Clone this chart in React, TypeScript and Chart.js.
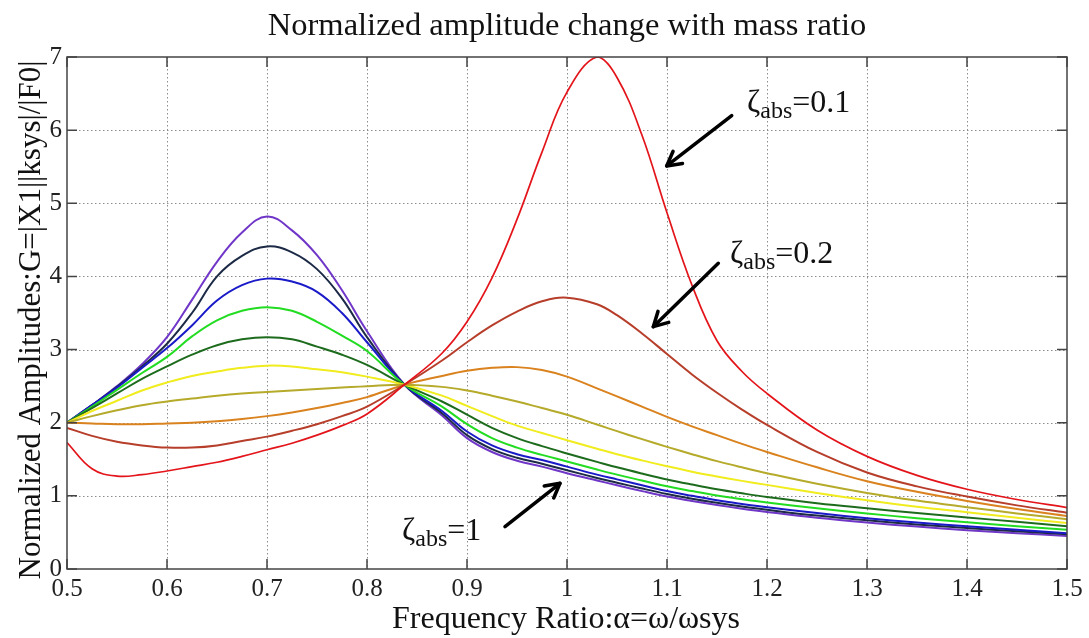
import React, { useEffect, useRef } from 'react';
import { Chart, registerables } from 'chart.js';

Chart.register(...registerables);

// Frequency ratio samples (shared by all curves)
const xs = [0.5, 0.525, 0.55, 0.575, 0.6, 0.625, 0.65, 0.675, 0.7, 0.725, 0.75, 0.775, 0.8, 0.8375, 0.875, 0.9, 0.925, 0.95, 0.975, 1.0, 1.03, 1.05, 1.075, 1.1, 1.125, 1.15, 1.175, 1.2, 1.25, 1.3, 1.35, 1.4, 1.45, 1.5];

// Normalized amplitude for each absorber damping ratio
const zeta01 = [1.73, 1.37, 1.27, 1.29, 1.34, 1.40, 1.46, 1.54, 1.63, 1.72, 1.83, 1.96, 2.12, 2.52, 2.95, 3.38, 3.98, 4.78, 5.7, 6.52, 7.0, 6.72, 5.93, 4.87, 3.88, 3.12, 2.7, 2.4, 1.9, 1.54, 1.28, 1.09, 0.95, 0.84];
const zeta02 = [1.93, 1.82, 1.74, 1.69, 1.66, 1.66, 1.69, 1.75, 1.81, 1.89, 1.98, 2.09, 2.22, 2.52, 2.85, 3.1, 3.33, 3.52, 3.66, 3.71, 3.62, 3.47, 3.22, 2.94, 2.66, 2.41, 2.18, 1.97, 1.6, 1.32, 1.13, 0.99, 0.87, 0.77];
const zeta03 = [2.0, 1.99, 1.98, 1.98, 1.99, 2.0, 2.02, 2.05, 2.09, 2.14, 2.2, 2.27, 2.35, 2.52, 2.64, 2.71, 2.75, 2.76, 2.72, 2.63, 2.47, 2.36, 2.22, 2.08, 1.95, 1.83, 1.71, 1.6, 1.39, 1.2, 1.055, 0.93, 0.82, 0.725];
const zeta04 = [2.0, 2.09, 2.17, 2.24, 2.29, 2.33, 2.37, 2.40, 2.42, 2.44, 2.46, 2.48, 2.50, 2.52, 2.49, 2.44, 2.37, 2.29, 2.2, 2.11, 1.975, 1.885, 1.775, 1.67, 1.57, 1.475, 1.39, 1.31, 1.165, 1.04, 0.935, 0.845, 0.76, 0.68];
const zeta05 = [2.0, 2.16, 2.30, 2.44, 2.55, 2.64, 2.70, 2.75, 2.78, 2.77, 2.73, 2.69, 2.63, 2.52, 2.37, 2.23, 2.09, 1.96, 1.86, 1.76, 1.645, 1.57, 1.485, 1.405, 1.33, 1.265, 1.205, 1.15, 1.04, 0.94, 0.85, 0.775, 0.70, 0.63];
const zeta06 = [2.0, 2.2, 2.4, 2.6, 2.77, 2.93, 3.06, 3.14, 3.17, 3.14, 3.04, 2.93, 2.79, 2.52, 2.29, 2.11, 1.93, 1.79, 1.68, 1.58, 1.465, 1.39, 1.305, 1.225, 1.155, 1.09, 1.035, 0.985, 0.9, 0.83, 0.765, 0.705, 0.645, 0.585];
const zeta07 = [2.0, 2.22, 2.45, 2.68, 2.9, 3.18, 3.4, 3.53, 3.58, 3.53, 3.38, 3.19, 2.98, 2.52, 2.22, 1.98, 1.79, 1.66, 1.56, 1.47, 1.36, 1.29, 1.21, 1.13, 1.065, 1.005, 0.955, 0.91, 0.83, 0.76, 0.695, 0.64, 0.585, 0.535];
const zeta08 = [2.0, 2.24, 2.48, 2.75, 3.02, 3.33, 3.67, 3.88, 3.97, 3.93, 3.79, 3.5, 3.1, 2.52, 2.16, 1.88, 1.69, 1.57, 1.49, 1.40, 1.29, 1.225, 1.145, 1.065, 1.0, 0.94, 0.89, 0.845, 0.765, 0.695, 0.635, 0.585, 0.535, 0.49];
const zeta09 = [2.0, 2.24, 2.49, 2.77, 3.08, 3.5, 4.0, 4.28, 4.41, 4.33, 4.1, 3.7, 3.17, 2.52, 2.13, 1.83, 1.64, 1.52, 1.44, 1.35, 1.245, 1.18, 1.10, 1.025, 0.96, 0.905, 0.855, 0.81, 0.73, 0.665, 0.61, 0.56, 0.515, 0.475];
const zeta10 = [2.0, 2.24, 2.5, 2.8, 3.17, 3.68, 4.2, 4.6, 4.82, 4.63, 4.29, 3.81, 3.25, 2.52, 2.1, 1.79, 1.6, 1.48, 1.40, 1.31, 1.21, 1.145, 1.065, 0.99, 0.93, 0.875, 0.825, 0.78, 0.70, 0.635, 0.58, 0.53, 0.49, 0.45];

const seriesValues = [zeta01, zeta02, zeta03, zeta04, zeta05, zeta06, zeta07, zeta08, zeta09, zeta10];
const seriesNames = ['ζ=0.1', 'ζ=0.2', 'ζ=0.3', 'ζ=0.4', 'ζ=0.5', 'ζ=0.6', 'ζ=0.7', 'ζ=0.8', 'ζ=0.9', 'ζ=1'];
const seriesColors = ['#e3141a', '#b63e2a', '#d9821e', '#b5aa2a', '#f0ec1e', '#1d6b1d', '#22dc22', '#1a1ac8', '#1c2a46', '#7036c8'];

const xTicks = [0.5, 0.6, 0.7, 0.8, 0.9, 1.0, 1.1, 1.2, 1.3, 1.4, 1.5];
const yTicks = [0, 1, 2, 3, 4, 5, 6, 7];

const titleText = 'Normalized amplitude change with mass ratio';
const xTitle = 'Frequency Ratio:α=ω/ωsys';
const yTitle = 'Normalized Amplitudes:G=|X1||ksys|/|F0|';

// annotations in data coordinates
const annotations = [
  { tx: 1.18, ty: 6.25, label: '=0.1', ax0: 1.1647, ay0: 6.2, ax1: 1.0997, ay1: 5.51 },
  { tx: 1.163, ty: 4.18, label: '=0.2', ax0: 1.1513, ay0: 4.18, ax1: 1.0863, ay1: 3.313 },
  { tx: 0.835, ty: 0.40, label: '=1', ax0: 0.938, ay0: 0.578, ax1: 0.993, ay1: 1.172 },
];

const SERIF = '"Liberation Serif", "Times New Roman", serif';

const framePlugin = {
  id: 'matlabFrame',
  beforeDatasetsDraw(chart: any) {
    const { ctx, chartArea: a, scales } = chart;
    const x = scales.x, y = scales.y;
    ctx.save();
    ctx.strokeStyle = '#8c8c8c';
    ctx.lineWidth = 1;
    ctx.setLineDash([1.5, 2.5]);
    xTicks.slice(1, -1).forEach((v) => {
      const px = Math.round(x.getPixelForValue(v)) + 0.5;
      ctx.beginPath(); ctx.moveTo(px, a.top); ctx.lineTo(px, a.bottom); ctx.stroke();
    });
    yTicks.slice(1, -1).forEach((v) => {
      const py = Math.round(y.getPixelForValue(v)) + 0.5;
      ctx.beginPath(); ctx.moveTo(a.left, py); ctx.lineTo(a.right, py); ctx.stroke();
    });
    ctx.restore();
  },
  afterDatasetsDraw(chart: any) {
    const { ctx, chartArea: a, scales } = chart;
    const x = scales.x, y = scales.y;
    ctx.save();
    ctx.strokeStyle = '#444444';
    ctx.lineWidth = 1.5;
    ctx.setLineDash([]);
    ctx.strokeRect(a.left, a.top, a.right - a.left, a.bottom - a.top);
    const tl = 10;
    ctx.beginPath();
    xTicks.forEach((v) => {
      const px = x.getPixelForValue(v);
      ctx.moveTo(px, a.bottom); ctx.lineTo(px, a.bottom - tl);
      ctx.moveTo(px, a.top); ctx.lineTo(px, a.top + tl);
    });
    yTicks.forEach((v) => {
      const py = y.getPixelForValue(v);
      ctx.moveTo(a.left, py); ctx.lineTo(a.left + tl, py);
      ctx.moveTo(a.right, py); ctx.lineTo(a.right - tl, py);
    });
    ctx.stroke();

    ctx.fillStyle = '#111111';
    ctx.textAlign = 'center';
    ctx.textBaseline = 'alphabetic';
    ctx.font = `32.5px ${SERIF}`;
    ctx.fillText(titleText, (a.left + a.right) / 2, 35);
    ctx.font = `32px ${SERIF}`;
    ctx.fillText(xTitle, (a.left + a.right) / 2 - 1, 628);
    ctx.save();
    ctx.translate(40, 320);
    ctx.rotate(-Math.PI / 2);
    ctx.font = `31px ${SERIF}`;
    ctx.fillText(yTitle, 0, 0);
    ctx.restore();

    annotations.forEach((an) => {
      const tx = x.getPixelForValue(an.tx);
      const ty = y.getPixelForValue(an.ty);
      ctx.textAlign = 'left';
      ctx.fillStyle = '#111111';
      ctx.font = `32px ${SERIF}`;
      ctx.fillText('ζ', tx, ty);
      let w = ctx.measureText('ζ').width;
      ctx.font = `24px ${SERIF}`;
      ctx.fillText('abs', tx + w, ty + 6);
      w += ctx.measureText('abs').width;
      ctx.font = `32px ${SERIF}`;
      ctx.fillText(an.label, tx + w, ty);

      const x0 = x.getPixelForValue(an.ax0), y0 = y.getPixelForValue(an.ay0);
      const x1 = x.getPixelForValue(an.ax1), y1 = y.getPixelForValue(an.ay1);
      ctx.strokeStyle = '#000000';
      ctx.lineWidth = 3.5;
      ctx.lineCap = 'round';
      ctx.lineJoin = 'round';
      ctx.beginPath(); ctx.moveTo(x0, y0); ctx.lineTo(x1, y1); ctx.stroke();
      const ang = Math.atan2(y1 - y0, x1 - x0);
      const hl = 16, ha = 0.5;
      ctx.beginPath();
      ctx.moveTo(x1 - hl * Math.cos(ang - ha), y1 - hl * Math.sin(ang - ha));
      ctx.lineTo(x1, y1);
      ctx.lineTo(x1 - hl * Math.cos(ang + ha), y1 - hl * Math.sin(ang + ha));
      ctx.stroke();
    });
    ctx.restore();
  },
};

export default function App() {
  const ref = useRef<HTMLCanvasElement | null>(null);
  useEffect(() => {
    if (!ref.current) return;
    const datasets = seriesValues.map((vals, i) => ({
      label: seriesNames[i],
      data: xs.map((xv, j) => ({ x: xv, y: vals[j] })),
      borderColor: seriesColors[i],
      backgroundColor: seriesColors[i],
      borderWidth: i === 0 ? 1.7 : 2,
      pointRadius: 0,
      fill: false,
      tension: 0.4,
    }));
    const chart = new Chart(ref.current, {
      type: 'line',
      data: { datasets },
      options: {
        animation: false,
        responsive: false,
        layout: { padding: { top: 57, right: 22, left: 0, bottom: 0 } },
        plugins: { legend: { display: false }, tooltip: { enabled: false }, title: { display: false } },
        scales: {
          x: {
            type: 'linear',
            min: 0.5,
            max: 1.5,
            afterFit: (s: any) => { s.height = 69; },
            afterBuildTicks: (s: any) => { s.ticks = xTicks.map((v) => ({ value: v })); },
            grid: { display: false, drawTicks: false },
            border: { display: false },
            ticks: {
              padding: 5,
              color: '#222222',
              font: { family: SERIF, size: 25 },
              maxRotation: 0,
              autoSkip: false,
              callback: (v: any) => String(Number(Number(v).toFixed(1))),
            },
          },
          y: {
            type: 'linear',
            min: 0,
            max: 7,
            afterFit: (s: any) => { s.width = 67; },
            afterBuildTicks: (s: any) => { s.ticks = yTicks.map((v) => ({ value: v })); },
            grid: { display: false, drawTicks: false },
            border: { display: false },
            ticks: {
              padding: 5,
              color: '#222222',
              font: { family: SERIF, size: 25 },
              autoSkip: false,
              callback: (v: any) => String(v),
            },
          },
        },
      },
      plugins: [framePlugin],
    });
    return () => chart.destroy();
  }, []);
  return (
    <canvas
      ref={ref}
      width={1089}
      height={638}
      style={{ position: 'absolute', left: 0, top: 0, width: 1089, height: 638, background: '#ffffff' }}
    />
  );
}
